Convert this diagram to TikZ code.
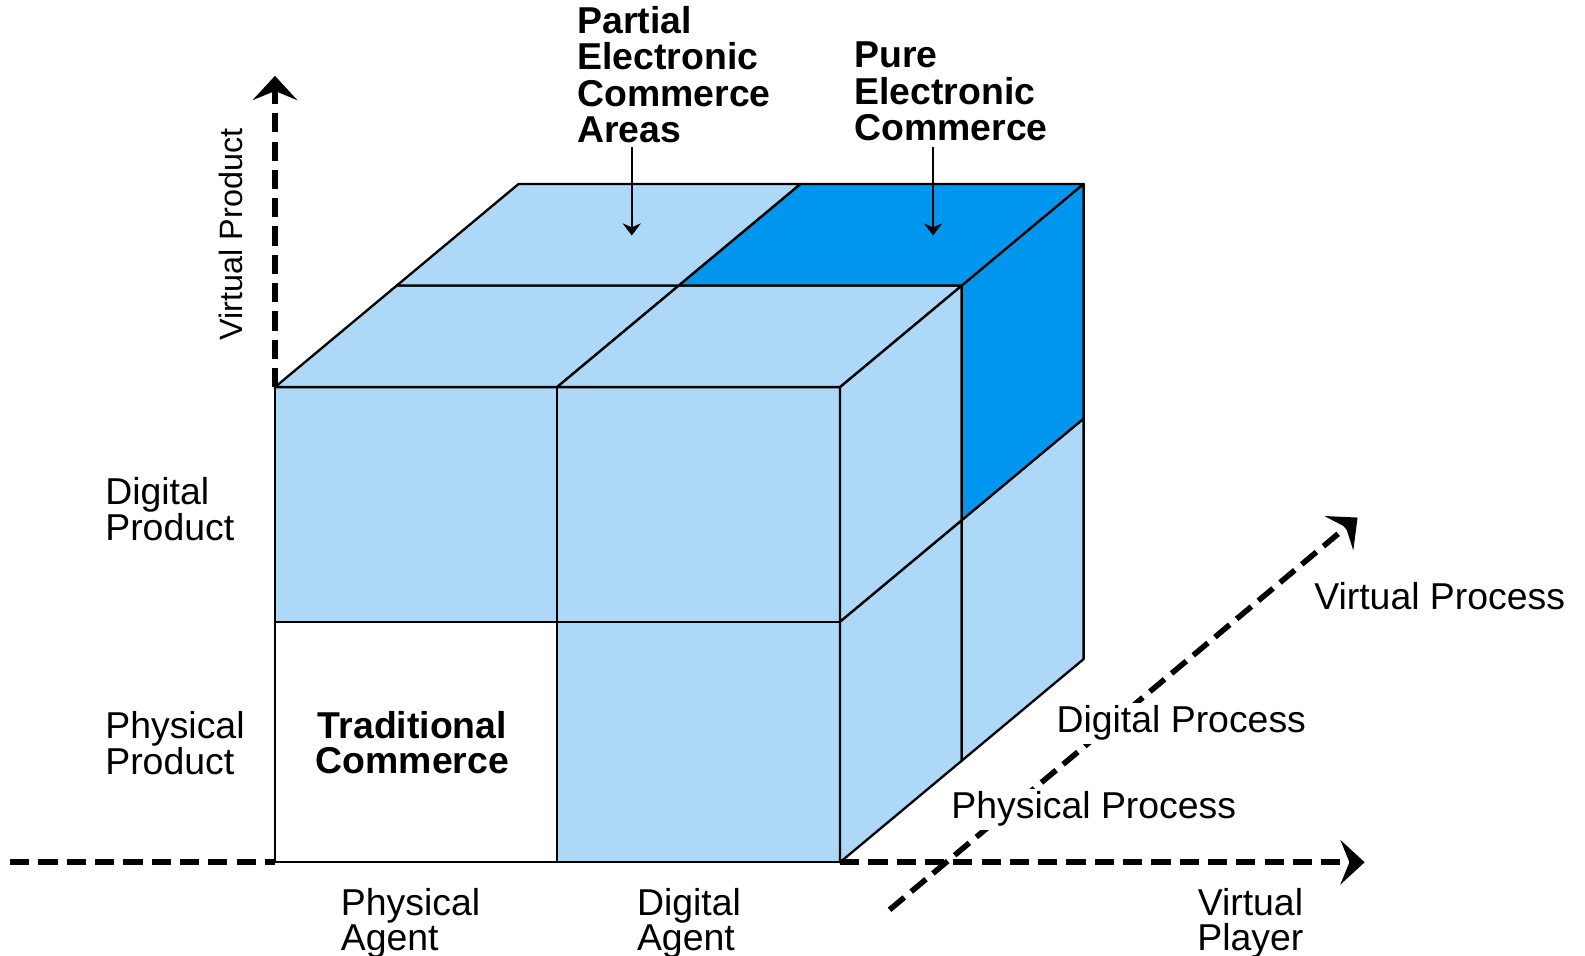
\documentclass[tikz,border=0pt]{standalone}
\usepackage{fontspec}
\setmainfont{Liberation Sans}
\usetikzlibrary{arrows.meta}
\definecolor{lightcube}{HTML}{ADD8F8}
\definecolor{darkcube}{HTML}{0096EE}
\begin{document}
\begin{tikzpicture}[x=1pt,y=-1pt,
  face/.style={draw=black, line width=2.3pt, line join=round, fill=lightcube},
  darkface/.style={face, fill=darkcube},
  whiteface/.style={face, fill=white},
  axisline/.style={line width=5.5pt, dash pattern=on 19pt off 9pt},
  axisarrow/.style={axisline, -{Stealth[length=24pt,width=44pt,inset=9pt]}},
  lbl/.style={inner sep=0pt, font=\fontsize{37}{34}\selectfont, align=left},
  blbl/.style={inner sep=0pt, font=\fontsize{37}{36}\selectfont\bfseries, align=left},
  pointer/.style={line width=2pt, -{Stealth[length=12pt,width=18pt]}}
]
\fill[white] (0,0) rectangle (1568,945);
\useasboundingbox (0,0) rectangle (1568,945);

% cube lattice points p<i><j><k>
\foreach \i/\x in {0/272,1/551,2/831}{
  \foreach \j/\y in {0/853,1/615,2/383}{
    \foreach \k in {0,1,2}{
      \coordinate (p\i\j\k) at ({\x+120.5*\k},{\y-100.5*\k});
    }
  }
}

% front face
\draw[whiteface] (p000) -- (p100) -- (p110) -- (p010) -- cycle;
\draw[face] (p100) -- (p200) -- (p210) -- (p110) -- cycle;
\draw[face] (p010) -- (p110) -- (p120) -- (p020) -- cycle;
\draw[face] (p110) -- (p210) -- (p220) -- (p120) -- cycle;
% top face
\draw[face] (p020) -- (p120) -- (p121) -- (p021) -- cycle;
\draw[face] (p120) -- (p220) -- (p221) -- (p121) -- cycle;
\draw[face] (p021) -- (p121) -- (p122) -- (p022) -- cycle;
\draw[darkface] (p121) -- (p221) -- (p222) -- (p122) -- cycle;
% right face
\draw[face] (p200) -- (p210) -- (p211) -- (p201) -- cycle;
\draw[face] (p201) -- (p211) -- (p212) -- (p202) -- cycle;
\draw[face] (p210) -- (p220) -- (p221) -- (p211) -- cycle;
\draw[darkface] (p211) -- (p221) -- (p222) -- (p212) -- cycle;

% axes
\coordinate (vtip) at (272,75);
\coordinate (hleft) at (10,853);
\coordinate (htip) at (1350,853);
\coordinate (dstart) at (880,900);
\coordinate (dtip) at (1343,512);
\draw[axisarrow] (p020) -- (vtip);
\draw[axisline] (hleft) -- (p000);
\draw[axisarrow] (p200) -- (htip);
\draw[axisarrow] (dstart) -- (dtip);

% labels
\node[blbl, anchor=base west] (partial) at (571,141) {Partial\\Electronic\\Commerce\\Areas};
\node[blbl, anchor=base west] (pure) at (845,139) {Pure\\Electronic\\Commerce};
\coordinate (pa1) at (625,145);
\coordinate (pa2) at (625,233);
\coordinate (pu1) at (923,145);
\coordinate (pu2) at (923,233);
\draw[pointer] (pa1) -- (pa2);
\draw[pointer] (pu1) -- (pu2);

\node[inner sep=0pt, font=\fontsize{32}{32}\selectfont, rotate=90, anchor=base] (vprod) at (239.5,232) {Virtual Product};
\node[lbl, anchor=base west] (dprod) at (104,535) {Digital\\Product};
\node[lbl, anchor=base west] (pprod) at (104,766) {Physical\\Product};
\node[inner sep=0pt, font=\fontsize{37}{34}\selectfont\bfseries, align=center, anchor=base] (trad) at (408,765) {Traditional\\Commerce};
\node[lbl, anchor=base west] (pagent) at (337,940) {Physical\\Agent};
\node[lbl, anchor=base west] (dagent) at (630,940) {Digital\\Agent};
\node[lbl, align=center, anchor=base] (vplayer) at (1237,940) {Virtual\\Player};
\node[lbl, anchor=base west] (vproc) at (1300,603) {Virtual Process};
\node[lbl, anchor=base west, fill=white, inner sep=3pt] (dproc) at (1042,725) {Digital Process};
\node[lbl, anchor=base west, fill=white, inner sep=3pt] (phproc) at (938,810) {Physical Process};
\end{tikzpicture}
\end{document}
